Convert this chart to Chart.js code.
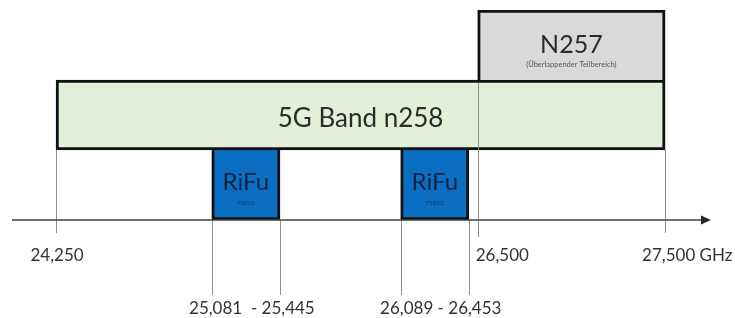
<!DOCTYPE html>
<html>
<head>
<meta charset="utf-8">
<title>5G Band n258 / RiFu</title>
<script src="https://cdn.jsdelivr.net/npm/chart.js@4"></script>
<style>
    html, body { margin: 0; padding: 0; background: #fff; }
    #bandChart { display: block; }
</style>
</head>
<body>
<canvas id="bandChart" width="735" height="318"></canvas>
<script>
// Band rows, top to bottom
const bandNames = ['N257', '5G Band n258', 'RiFu'];

// Frequency ranges (values as written in the figure)
const n257Range = [26500, 27500];
const n258Range = [24250, 27500];
const rifuRanges = [[25081, 25445], [26089, 26453]];

// Axis ticks and labels
const tickValues = [24250, 26500, 27500];
const tickLabels = ['24,250', '26,500', '27,500 GHz'];
const rangeLabels = ['25,081  - 25,445', '26,089 - 26,453'];

const FONT = 'Lato, "Open Sans", sans-serif';

function rowData(rowIndex, range) {
    const data = bandNames.map(() => null);
    data[rowIndex] = range;
    return data;
}

// Draws box captions, guide lines, the arrow axis and the labels below it
const bandDiagramPlugin = {
    id: 'bandDiagram',
    afterDatasetsDraw(chart) {
        const ctx = chart.ctx;
        const xScale = chart.scales.x;
        const area = chart.chartArea;
        const axisY = area.bottom;

        const barOf = (ds, row) => chart.getDatasetMeta(ds).data[row];

        ctx.save();

        // captions inside the boxes
        ctx.textAlign = 'center';
        ctx.textBaseline = 'alphabetic';

        const n257 = barOf(0, 0);
        const n257x = (n257.x + n257.base) / 2;
        ctx.fillStyle = '#2b2b2b';
        ctx.font = '25px ' + FONT;
        ctx.fillText('N257', n257x, n257.y + 8);
        ctx.font = '7.5px ' + FONT;
        ctx.fillStyle = '#555';
        ctx.fillText('(Überlappender Teilbereich)', n257x, n257.y + 22);

        const n258 = barOf(1, 1);
        ctx.fillStyle = '#2b2b2b';
        ctx.font = '26px ' + FONT;
        ctx.fillText('5G Band n258', (n258.x + n258.base) / 2, n258.y + 12);

        [2, 3].forEach(ds => {
            const bar = barOf(ds, 2);
            const cx = (bar.x + bar.base) / 2;
            ctx.fillStyle = '#0e2340';
            ctx.font = '24px ' + FONT;
            ctx.fillText('RiFu', cx, bar.y + 5);
            ctx.font = '6px ' + FONT;
            ctx.fillStyle = '#1d3a66';
            ctx.fillText('FSB13', cx, bar.y + 20);
        });

        // grey guide lines
        ctx.strokeStyle = '#8f8f8f';
        ctx.lineWidth = 1;
        const vline = (x, y0, y1) => {
            ctx.beginPath();
            ctx.moveTo(Math.round(x) + 0.5, y0);
            ctx.lineTo(Math.round(x) + 0.5, y1);
            ctx.stroke();
        };
        tickValues.forEach((v, i) => {
            const px = xScale.getPixelForValue(v);
            if (i === 1) {
                vline(px, n258.y - n258.height / 2 + 3, axisY + 17);
            } else {
                vline(px, n258.y + n258.height / 2, axisY + 13);
            }
        });
        rifuRanges.forEach(r => {
            r.forEach(v => vline(xScale.getPixelForValue(v), axisY, axisY + 75));
        });

        // axis with arrow head
        ctx.strokeStyle = '#404040';
        ctx.lineWidth = 1.5;
        ctx.beginPath();
        ctx.moveTo(area.left, axisY);
        ctx.lineTo(area.right - 8, axisY);
        ctx.stroke();
        ctx.fillStyle = '#262626';
        ctx.beginPath();
        ctx.moveTo(area.right, axisY);
        ctx.lineTo(area.right - 10, axisY - 4.5);
        ctx.lineTo(area.right - 10, axisY + 4.5);
        ctx.closePath();
        ctx.fill();

        // tick labels
        ctx.fillStyle = '#333';
        ctx.font = '17px ' + FONT;
        tickValues.forEach((v, i) => {
            const px = xScale.getPixelForValue(v);
            if (i === 0) {
                ctx.textAlign = 'center';
                ctx.fillText(tickLabels[i], px + 1, axisY + 41);
            } else if (i === 1) {
                ctx.textAlign = 'left';
                ctx.fillText(tickLabels[i], px - 2, axisY + 41);
            } else {
                ctx.textAlign = 'left';
                ctx.fillText(tickLabels[i], px - 23, axisY + 41);
            }
        });

        // RiFu range labels
        ctx.textAlign = 'center';
        rifuRanges.forEach((r, i) => {
            const mid = (xScale.getPixelForValue(r[0]) + xScale.getPixelForValue(r[1])) / 2;
            ctx.fillText(rangeLabels[i], mid + 6, axisY + 94);
        });

        ctx.restore();
    }
};

new Chart(document.getElementById('bandChart'), {
    type: 'bar',
    data: {
        labels: bandNames,
        datasets: [
            {
                label: 'N257',
                data: rowData(0, n257Range),
                backgroundColor: '#d9d9d9',
                borderColor: '#111',
                borderWidth: { top: 3, left: 3, right: 3, bottom: 0 }
            },
            {
                label: '5G Band n258',
                data: rowData(1, n258Range),
                backgroundColor: '#e2efd9',
                borderColor: '#111',
                borderWidth: 3
            },
            {
                label: 'RiFu 1',
                data: rowData(2, rifuRanges[0]),
                backgroundColor: '#0a6fc2',
                borderColor: '#111',
                borderWidth: { top: 0, left: 3, right: 3, bottom: 3 }
            },
            {
                label: 'RiFu 2',
                data: rowData(2, rifuRanges[1]),
                backgroundColor: '#0a6fc2',
                borderColor: '#111',
                borderWidth: { top: 0, left: 3, right: 3, bottom: 3 }
            }
        ]
    },
    options: {
        indexAxis: 'y',
        responsive: false,
        animation: false,
        layout: {
            padding: { left: 12, right: 24, top: 10, bottom: 98 }
        },
        datasets: {
            bar: {
                grouped: false,
                barPercentage: 1,
                categoryPercentage: 1,
                borderSkipped: false
            }
        },
        plugins: {
            legend: { display: false },
            tooltip: { enabled: false }
        },
        scales: {
            x: {
                type: 'linear',
                display: false,
                min: 24015,
                max: 27745
            },
            y: {
                display: false
            }
        }
    },
    plugins: [bandDiagramPlugin]
});
</script>
</body>
</html>
